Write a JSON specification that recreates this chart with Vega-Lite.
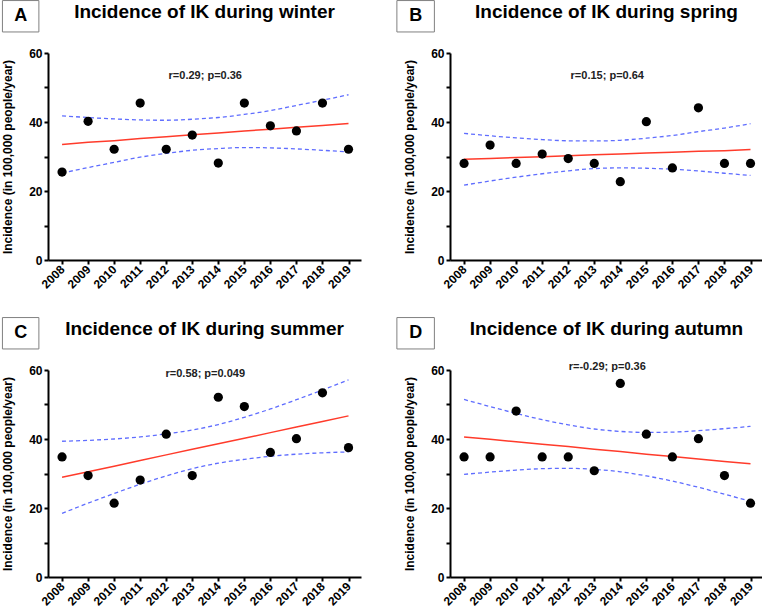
{
  "$schema": "https://vega.github.io/schema/vega-lite/v6.json",
  "padding": {"left": 1, "top": 0, "right": 0, "bottom": 0},
  "background": "white",
  "config": {
    "font": "Liberation Sans",
    "view": {"stroke": null},
    "axis": {"grid": false, "domainColor": "black", "domainWidth": 2, "tickColor": "black", "tickWidth": 2, "tickSize": 4,
      "labelFont": "Liberation Sans", "labelFontWeight": "bold", "labelFontSize": 12, "labelColor": "black",
      "titleFont": "Liberation Sans", "titleFontWeight": "bold", "titleFontSize": 12, "titleColor": "black"},
    "axisX": {"labelAngle": -45, "labelAlign": "right", "labelBaseline": "middle", "labelPadding": 3, "labelOverlap": false, "labelFlush": false},
    "axisY": {"labelPadding": 2, "titlePadding": 14}
  },
  "datasets": {
    "obs": [
      {"season": "winter", "year": 2008, "incidence": 25.5}, {"season": "winter", "year": 2009, "incidence": 40.2},
      {"season": "winter", "year": 2010, "incidence": 32.1}, {"season": "winter", "year": 2011, "incidence": 45.5},
      {"season": "winter", "year": 2012, "incidence": 32.1}, {"season": "winter", "year": 2013, "incidence": 36.2},
      {"season": "winter", "year": 2014, "incidence": 28.1}, {"season": "winter", "year": 2015, "incidence": 45.5},
      {"season": "winter", "year": 2016, "incidence": 38.9}, {"season": "winter", "year": 2017, "incidence": 37.4},
      {"season": "winter", "year": 2018, "incidence": 45.5}, {"season": "winter", "year": 2019, "incidence": 32.1},
      {"season": "spring", "year": 2008, "incidence": 28.0}, {"season": "spring", "year": 2009, "incidence": 33.3},
      {"season": "spring", "year": 2010, "incidence": 28.0}, {"season": "spring", "year": 2011, "incidence": 30.7},
      {"season": "spring", "year": 2012, "incidence": 29.4}, {"season": "spring", "year": 2013, "incidence": 28.0},
      {"season": "spring", "year": 2014, "incidence": 22.7}, {"season": "spring", "year": 2015, "incidence": 40.1},
      {"season": "spring", "year": 2016, "incidence": 26.7}, {"season": "spring", "year": 2017, "incidence": 44.1},
      {"season": "spring", "year": 2018, "incidence": 28.0}, {"season": "spring", "year": 2019, "incidence": 28.0},
      {"season": "summer", "year": 2008, "incidence": 34.8}, {"season": "summer", "year": 2009, "incidence": 29.4},
      {"season": "summer", "year": 2010, "incidence": 21.4}, {"season": "summer", "year": 2011, "incidence": 28.1},
      {"season": "summer", "year": 2012, "incidence": 41.4}, {"season": "summer", "year": 2013, "incidence": 29.4},
      {"season": "summer", "year": 2014, "incidence": 52.1}, {"season": "summer", "year": 2015, "incidence": 49.4},
      {"season": "summer", "year": 2016, "incidence": 36.1}, {"season": "summer", "year": 2017, "incidence": 40.1},
      {"season": "summer", "year": 2018, "incidence": 53.4}, {"season": "summer", "year": 2019, "incidence": 37.5},
      {"season": "autumn", "year": 2008, "incidence": 34.8}, {"season": "autumn", "year": 2009, "incidence": 34.8},
      {"season": "autumn", "year": 2010, "incidence": 48.1}, {"season": "autumn", "year": 2011, "incidence": 34.8},
      {"season": "autumn", "year": 2012, "incidence": 34.8}, {"season": "autumn", "year": 2013, "incidence": 30.8},
      {"season": "autumn", "year": 2014, "incidence": 56.1}, {"season": "autumn", "year": 2015, "incidence": 41.4},
      {"season": "autumn", "year": 2016, "incidence": 34.8}, {"season": "autumn", "year": 2017, "incidence": 40.1},
      {"season": "autumn", "year": 2018, "incidence": 29.4}, {"season": "autumn", "year": 2019, "incidence": 21.4}
    ],
    "fit": [
      {"season": "winter", "year": 2008, "fit": 33.5, "lower": 25.2, "upper": 41.8},
      {"season": "winter", "year": 2009, "fit": 34.1, "lower": 26.8, "upper": 41.3},
      {"season": "winter", "year": 2010, "fit": 34.6, "lower": 28.3, "upper": 40.9},
      {"season": "winter", "year": 2011, "fit": 35.2, "lower": 29.8, "upper": 40.6},
      {"season": "winter", "year": 2012, "fit": 35.7, "lower": 30.9, "upper": 40.5},
      {"season": "winter", "year": 2013, "fit": 36.3, "lower": 31.8, "upper": 40.8},
      {"season": "winter", "year": 2014, "fit": 36.8, "lower": 32.3, "upper": 41.3},
      {"season": "winter", "year": 2015, "fit": 37.4, "lower": 32.6, "upper": 42.2},
      {"season": "winter", "year": 2016, "fit": 37.9, "lower": 32.5, "upper": 43.3},
      {"season": "winter", "year": 2017, "fit": 38.5, "lower": 32.2, "upper": 44.8},
      {"season": "winter", "year": 2018, "fit": 39.0, "lower": 31.8, "upper": 46.3},
      {"season": "winter", "year": 2019, "fit": 39.6, "lower": 31.3, "upper": 47.9},
      {"season": "spring", "year": 2008, "fit": 29.2, "lower": 21.7, "upper": 36.7},
      {"season": "spring", "year": 2009, "fit": 29.45, "lower": 22.9, "upper": 36.0},
      {"season": "spring", "year": 2010, "fit": 29.7, "lower": 24.0, "upper": 35.4},
      {"season": "spring", "year": 2011, "fit": 29.96, "lower": 25.0, "upper": 34.9},
      {"season": "spring", "year": 2012, "fit": 30.2, "lower": 25.85, "upper": 34.55},
      {"season": "spring", "year": 2013, "fit": 30.5, "lower": 26.5, "upper": 34.5},
      {"season": "spring", "year": 2014, "fit": 30.7, "lower": 26.7, "upper": 34.7},
      {"season": "spring", "year": 2015, "fit": 30.98, "lower": 26.6, "upper": 35.3},
      {"season": "spring", "year": 2016, "fit": 31.2, "lower": 26.3, "upper": 36.1},
      {"season": "spring", "year": 2017, "fit": 31.5, "lower": 25.8, "upper": 37.2},
      {"season": "spring", "year": 2018, "fit": 31.7, "lower": 25.15, "upper": 38.25},
      {"season": "spring", "year": 2019, "fit": 32.0, "lower": 24.5, "upper": 39.5},
      {"season": "summer", "year": 2008, "fit": 28.9, "lower": 18.45, "upper": 39.35},
      {"season": "summer", "year": 2009, "fit": 30.5, "lower": 21.4, "upper": 39.6},
      {"season": "summer", "year": 2010, "fit": 32.1, "lower": 24.2, "upper": 40.0},
      {"season": "summer", "year": 2011, "fit": 33.75, "lower": 26.9, "upper": 40.6},
      {"season": "summer", "year": 2012, "fit": 35.4, "lower": 29.3, "upper": 41.5},
      {"season": "summer", "year": 2013, "fit": 37.0, "lower": 31.4, "upper": 42.6},
      {"season": "summer", "year": 2014, "fit": 38.6, "lower": 33.0, "upper": 44.2},
      {"season": "summer", "year": 2015, "fit": 40.2, "lower": 34.1, "upper": 46.3},
      {"season": "summer", "year": 2016, "fit": 41.85, "lower": 35.0, "upper": 48.7},
      {"season": "summer", "year": 2017, "fit": 43.5, "lower": 35.6, "upper": 51.4},
      {"season": "summer", "year": 2018, "fit": 45.1, "lower": 36.0, "upper": 54.2},
      {"season": "summer", "year": 2019, "fit": 46.7, "lower": 36.25, "upper": 57.15},
      {"season": "autumn", "year": 2008, "fit": 40.6, "lower": 29.75, "upper": 51.45},
      {"season": "autumn", "year": 2009, "fit": 39.9, "lower": 30.4, "upper": 49.4},
      {"season": "autumn", "year": 2010, "fit": 39.2, "lower": 31.0, "upper": 47.4},
      {"season": "autumn", "year": 2011, "fit": 38.5, "lower": 31.4, "upper": 45.6},
      {"season": "autumn", "year": 2012, "fit": 37.8, "lower": 31.5, "upper": 44.1},
      {"season": "autumn", "year": 2013, "fit": 37.05, "lower": 31.2, "upper": 42.9},
      {"season": "autumn", "year": 2014, "fit": 36.35, "lower": 30.5, "upper": 42.2},
      {"season": "autumn", "year": 2015, "fit": 35.6, "lower": 29.3, "upper": 41.9},
      {"season": "autumn", "year": 2016, "fit": 34.9, "lower": 27.8, "upper": 42.0},
      {"season": "autumn", "year": 2017, "fit": 34.2, "lower": 26.0, "upper": 42.4},
      {"season": "autumn", "year": 2018, "fit": 33.5, "lower": 24.0, "upper": 43.0},
      {"season": "autumn", "year": 2019, "fit": 32.8, "lower": 21.95, "upper": 43.65}
    ],
    "labels": [
      {"season": "winter", "letter": "A", "heading": "Incidence of IK during winter", "stats": "r=0.29; p=0.36"},
      {"season": "spring", "letter": "B", "heading": "Incidence of IK during spring", "stats": "r=0.15; p=0.64"},
      {"season": "summer", "letter": "C", "heading": "Incidence of IK during summer", "stats": "r=0.58; p=0.049"},
      {"season": "autumn", "letter": "D", "heading": "Incidence of IK during autumn", "stats": "r=-0.29; p=0.36"}
    ]
  },
  "spacing": 26,
  "vconcat": [
    {
      "spacing": 35,
      "hconcat": [
        {
          "width": 313, "height": 207,
          "layer": [
            {"data": {"name": "fit"}, "transform": [{"filter": "datum.season === 'winter'"}],
             "mark": {"type": "line", "color": "#5f6dff", "strokeWidth": 1.3, "strokeDash": [4, 3], "interpolate": "monotone"},
             "encoding": {
               "x": {"field": "year", "type": "quantitative", "title": null, "scale": {"domain": [2007.46, 2019.48], "nice": false, "zero": false}, "axis": {"values": [2008,2009,2010,2011,2012,2013,2014,2015,2016,2017,2018,2019], "tickCount": 30, "format": "d", "labelOverlap": false, "labelFlush": false}},
               "y": {"field": "upper", "type": "quantitative", "title": "Incidence (in 100,000 people/year)", "scale": {"domain": [0, 60], "nice": false}, "axis": {"values": [0,10,20,30,40,50,60], "tickCount": 30, "labelExpr": "datum.value % 20 === 0 ? datum.label : ''"}}}},
            {"data": {"name": "fit"}, "transform": [{"filter": "datum.season === 'winter'"}],
             "mark": {"type": "line", "color": "#5f6dff", "strokeWidth": 1.3, "strokeDash": [4, 3], "interpolate": "monotone"},
             "encoding": {"x": {"field": "year", "type": "quantitative", "title": null}, "y": {"field": "lower", "type": "quantitative", "title": "Incidence (in 100,000 people/year)"}}},
            {"data": {"name": "fit"}, "transform": [{"filter": "datum.season === 'winter'"}],
             "mark": {"type": "line", "color": "#ff3b2b", "strokeWidth": 1.5},
             "encoding": {"x": {"field": "year", "type": "quantitative", "title": null}, "y": {"field": "fit", "type": "quantitative", "title": "Incidence (in 100,000 people/year)"}}},
            {"data": {"name": "obs"}, "transform": [{"filter": "datum.season === 'winter'"}],
             "mark": {"type": "circle", "color": "black", "opacity": 1, "size": 85},
             "encoding": {"x": {"field": "year", "type": "quantitative", "title": null}, "y": {"field": "incidence", "type": "quantitative", "title": "Incidence (in 100,000 people/year)"}}},
            {"data": {"name": "labels"}, "transform": [{"filter": "datum.season === 'winter'"}],
             "mark": {"type": "text", "fontSize": 11, "fontWeight": "bold", "color": "#222222", "align": "center", "baseline": "middle"},
             "encoding": {"x": {"datum": 2013.5, "type": "quantitative"}, "y": {"datum": 53.3, "type": "quantitative"}, "text": {"field": "stats"}}},
            {"data": {"name": "labels"}, "transform": [{"filter": "datum.season === 'winter'"}],
             "mark": {"type": "text", "fontSize": 19, "fontWeight": "bold", "color": "black", "align": "center", "baseline": "alphabetic"},
             "encoding": {"x": {"datum": 2013.47, "type": "quantitative"}, "y": {"datum": 70.2, "type": "quantitative"}, "text": {"field": "heading"}}},
            {"data": {"name": "labels"}, "transform": [{"filter": "datum.season === 'winter'"}],
             "mark": {"type": "rect", "fill": "white", "stroke": "#808080", "strokeWidth": 1},
             "encoding": {"x": {"datum": 2005.71, "type": "quantitative"}, "x2": {"datum": 2007.11}, "y": {"datum": 75.2, "type": "quantitative"}, "y2": {"datum": 66.1}}},
            {"data": {"name": "labels"}, "transform": [{"filter": "datum.season === 'winter'"}],
             "mark": {"type": "text", "fontSize": 18, "fontWeight": "bold", "color": "black", "align": "center", "baseline": "middle"},
             "encoding": {"x": {"datum": 2006.41, "type": "quantitative"}, "y": {"datum": 70.65, "type": "quantitative"}, "text": {"field": "letter"}}}
          ]
        },
        {
          "width": 313, "height": 207,
          "layer": [
            {"data": {"name": "fit"}, "transform": [{"filter": "datum.season === 'spring'"}],
             "mark": {"type": "line", "color": "#5f6dff", "strokeWidth": 1.3, "strokeDash": [4, 3], "interpolate": "monotone"},
             "encoding": {
               "x": {"field": "year", "type": "quantitative", "title": null, "scale": {"domain": [2007.46, 2019.48], "nice": false, "zero": false}, "axis": {"values": [2008,2009,2010,2011,2012,2013,2014,2015,2016,2017,2018,2019], "tickCount": 30, "format": "d", "labelOverlap": false, "labelFlush": false}},
               "y": {"field": "upper", "type": "quantitative", "title": "Incidence (in 100,000 people/year)", "scale": {"domain": [0, 60], "nice": false}, "axis": {"values": [0,10,20,30,40,50,60], "tickCount": 30, "labelExpr": "datum.value % 20 === 0 ? datum.label : ''"}}}},
            {"data": {"name": "fit"}, "transform": [{"filter": "datum.season === 'spring'"}],
             "mark": {"type": "line", "color": "#5f6dff", "strokeWidth": 1.3, "strokeDash": [4, 3], "interpolate": "monotone"},
             "encoding": {"x": {"field": "year", "type": "quantitative", "title": null}, "y": {"field": "lower", "type": "quantitative", "title": "Incidence (in 100,000 people/year)"}}},
            {"data": {"name": "fit"}, "transform": [{"filter": "datum.season === 'spring'"}],
             "mark": {"type": "line", "color": "#ff3b2b", "strokeWidth": 1.5},
             "encoding": {"x": {"field": "year", "type": "quantitative", "title": null}, "y": {"field": "fit", "type": "quantitative", "title": "Incidence (in 100,000 people/year)"}}},
            {"data": {"name": "obs"}, "transform": [{"filter": "datum.season === 'spring'"}],
             "mark": {"type": "circle", "color": "black", "opacity": 1, "size": 85},
             "encoding": {"x": {"field": "year", "type": "quantitative", "title": null}, "y": {"field": "incidence", "type": "quantitative", "title": "Incidence (in 100,000 people/year)"}}},
            {"data": {"name": "labels"}, "transform": [{"filter": "datum.season === 'spring'"}],
             "mark": {"type": "text", "fontSize": 11, "fontWeight": "bold", "color": "#222222", "align": "center", "baseline": "middle"},
             "encoding": {"x": {"datum": 2013.5, "type": "quantitative"}, "y": {"datum": 53.3, "type": "quantitative"}, "text": {"field": "stats"}}},
            {"data": {"name": "labels"}, "transform": [{"filter": "datum.season === 'spring'"}],
             "mark": {"type": "text", "fontSize": 19, "fontWeight": "bold", "color": "black", "align": "center", "baseline": "alphabetic"},
             "encoding": {"x": {"datum": 2013.47, "type": "quantitative"}, "y": {"datum": 70.2, "type": "quantitative"}, "text": {"field": "heading"}}},
            {"data": {"name": "labels"}, "transform": [{"filter": "datum.season === 'spring'"}],
             "mark": {"type": "rect", "fill": "white", "stroke": "#808080", "strokeWidth": 1},
             "encoding": {"x": {"datum": 2005.42, "type": "quantitative"}, "x2": {"datum": 2006.86}, "y": {"datum": 75.2, "type": "quantitative"}, "y2": {"datum": 66.1}}},
            {"data": {"name": "labels"}, "transform": [{"filter": "datum.season === 'spring'"}],
             "mark": {"type": "text", "fontSize": 18, "fontWeight": "bold", "color": "black", "align": "center", "baseline": "middle"},
             "encoding": {"x": {"datum": 2006.14, "type": "quantitative"}, "y": {"datum": 70.65, "type": "quantitative"}, "text": {"field": "letter"}}}
          ]
        }
      ]
    },
    {
      "spacing": 35,
      "hconcat": [
        {
          "width": 313, "height": 207,
          "layer": [
            {"data": {"name": "fit"}, "transform": [{"filter": "datum.season === 'summer'"}],
             "mark": {"type": "line", "color": "#5f6dff", "strokeWidth": 1.3, "strokeDash": [4, 3], "interpolate": "monotone"},
             "encoding": {
               "x": {"field": "year", "type": "quantitative", "title": null, "scale": {"domain": [2007.46, 2019.48], "nice": false, "zero": false}, "axis": {"values": [2008,2009,2010,2011,2012,2013,2014,2015,2016,2017,2018,2019], "tickCount": 30, "format": "d", "labelOverlap": false, "labelFlush": false}},
               "y": {"field": "upper", "type": "quantitative", "title": "Incidence (in 100,000 people/year)", "scale": {"domain": [0, 60], "nice": false}, "axis": {"values": [0,10,20,30,40,50,60], "tickCount": 30, "labelExpr": "datum.value % 20 === 0 ? datum.label : ''"}}}},
            {"data": {"name": "fit"}, "transform": [{"filter": "datum.season === 'summer'"}],
             "mark": {"type": "line", "color": "#5f6dff", "strokeWidth": 1.3, "strokeDash": [4, 3], "interpolate": "monotone"},
             "encoding": {"x": {"field": "year", "type": "quantitative", "title": null}, "y": {"field": "lower", "type": "quantitative", "title": "Incidence (in 100,000 people/year)"}}},
            {"data": {"name": "fit"}, "transform": [{"filter": "datum.season === 'summer'"}],
             "mark": {"type": "line", "color": "#ff3b2b", "strokeWidth": 1.5},
             "encoding": {"x": {"field": "year", "type": "quantitative", "title": null}, "y": {"field": "fit", "type": "quantitative", "title": "Incidence (in 100,000 people/year)"}}},
            {"data": {"name": "obs"}, "transform": [{"filter": "datum.season === 'summer'"}],
             "mark": {"type": "circle", "color": "black", "opacity": 1, "size": 85},
             "encoding": {"x": {"field": "year", "type": "quantitative", "title": null}, "y": {"field": "incidence", "type": "quantitative", "title": "Incidence (in 100,000 people/year)"}}},
            {"data": {"name": "labels"}, "transform": [{"filter": "datum.season === 'summer'"}],
             "mark": {"type": "text", "fontSize": 11, "fontWeight": "bold", "color": "#222222", "align": "center", "baseline": "middle"},
             "encoding": {"x": {"datum": 2013.5, "type": "quantitative"}, "y": {"datum": 58.8, "type": "quantitative"}, "text": {"field": "stats"}}},
            {"data": {"name": "labels"}, "transform": [{"filter": "datum.season === 'summer'"}],
             "mark": {"type": "text", "fontSize": 19, "fontWeight": "bold", "color": "black", "align": "center", "baseline": "alphabetic"},
             "encoding": {"x": {"datum": 2013.47, "type": "quantitative"}, "y": {"datum": 70.2, "type": "quantitative"}, "text": {"field": "heading"}}},
            {"data": {"name": "labels"}, "transform": [{"filter": "datum.season === 'summer'"}],
             "mark": {"type": "rect", "fill": "white", "stroke": "#808080", "strokeWidth": 1},
             "encoding": {"x": {"datum": 2005.71, "type": "quantitative"}, "x2": {"datum": 2007.11}, "y": {"datum": 75.2, "type": "quantitative"}, "y2": {"datum": 66.1}}},
            {"data": {"name": "labels"}, "transform": [{"filter": "datum.season === 'summer'"}],
             "mark": {"type": "text", "fontSize": 18, "fontWeight": "bold", "color": "black", "align": "center", "baseline": "middle"},
             "encoding": {"x": {"datum": 2006.41, "type": "quantitative"}, "y": {"datum": 70.65, "type": "quantitative"}, "text": {"field": "letter"}}}
          ]
        },
        {
          "width": 313, "height": 207,
          "layer": [
            {"data": {"name": "fit"}, "transform": [{"filter": "datum.season === 'autumn'"}],
             "mark": {"type": "line", "color": "#5f6dff", "strokeWidth": 1.3, "strokeDash": [4, 3], "interpolate": "monotone"},
             "encoding": {
               "x": {"field": "year", "type": "quantitative", "title": null, "scale": {"domain": [2007.46, 2019.48], "nice": false, "zero": false}, "axis": {"values": [2008,2009,2010,2011,2012,2013,2014,2015,2016,2017,2018,2019], "tickCount": 30, "format": "d", "labelOverlap": false, "labelFlush": false}},
               "y": {"field": "upper", "type": "quantitative", "title": "Incidence (in 100,000 people/year)", "scale": {"domain": [0, 60], "nice": false}, "axis": {"values": [0,10,20,30,40,50,60], "tickCount": 30, "labelExpr": "datum.value % 20 === 0 ? datum.label : ''"}}}},
            {"data": {"name": "fit"}, "transform": [{"filter": "datum.season === 'autumn'"}],
             "mark": {"type": "line", "color": "#5f6dff", "strokeWidth": 1.3, "strokeDash": [4, 3], "interpolate": "monotone"},
             "encoding": {"x": {"field": "year", "type": "quantitative", "title": null}, "y": {"field": "lower", "type": "quantitative", "title": "Incidence (in 100,000 people/year)"}}},
            {"data": {"name": "fit"}, "transform": [{"filter": "datum.season === 'autumn'"}],
             "mark": {"type": "line", "color": "#ff3b2b", "strokeWidth": 1.5},
             "encoding": {"x": {"field": "year", "type": "quantitative", "title": null}, "y": {"field": "fit", "type": "quantitative", "title": "Incidence (in 100,000 people/year)"}}},
            {"data": {"name": "obs"}, "transform": [{"filter": "datum.season === 'autumn'"}],
             "mark": {"type": "circle", "color": "black", "opacity": 1, "size": 85},
             "encoding": {"x": {"field": "year", "type": "quantitative", "title": null}, "y": {"field": "incidence", "type": "quantitative", "title": "Incidence (in 100,000 people/year)"}}},
            {"data": {"name": "labels"}, "transform": [{"filter": "datum.season === 'autumn'"}],
             "mark": {"type": "text", "fontSize": 11, "fontWeight": "bold", "color": "#222222", "align": "center", "baseline": "middle"},
             "encoding": {"x": {"datum": 2013.5, "type": "quantitative"}, "y": {"datum": 60.9, "type": "quantitative"}, "text": {"field": "stats"}}},
            {"data": {"name": "labels"}, "transform": [{"filter": "datum.season === 'autumn'"}],
             "mark": {"type": "text", "fontSize": 19, "fontWeight": "bold", "color": "black", "align": "center", "baseline": "alphabetic"},
             "encoding": {"x": {"datum": 2013.47, "type": "quantitative"}, "y": {"datum": 70.2, "type": "quantitative"}, "text": {"field": "heading"}}},
            {"data": {"name": "labels"}, "transform": [{"filter": "datum.season === 'autumn'"}],
             "mark": {"type": "rect", "fill": "white", "stroke": "#808080", "strokeWidth": 1},
             "encoding": {"x": {"datum": 2005.42, "type": "quantitative"}, "x2": {"datum": 2006.86}, "y": {"datum": 75.2, "type": "quantitative"}, "y2": {"datum": 66.1}}},
            {"data": {"name": "labels"}, "transform": [{"filter": "datum.season === 'autumn'"}],
             "mark": {"type": "text", "fontSize": 18, "fontWeight": "bold", "color": "black", "align": "center", "baseline": "middle"},
             "encoding": {"x": {"datum": 2006.14, "type": "quantitative"}, "y": {"datum": 70.65, "type": "quantitative"}, "text": {"field": "letter"}}}
          ]
        }
      ]
    }
  ]
}
